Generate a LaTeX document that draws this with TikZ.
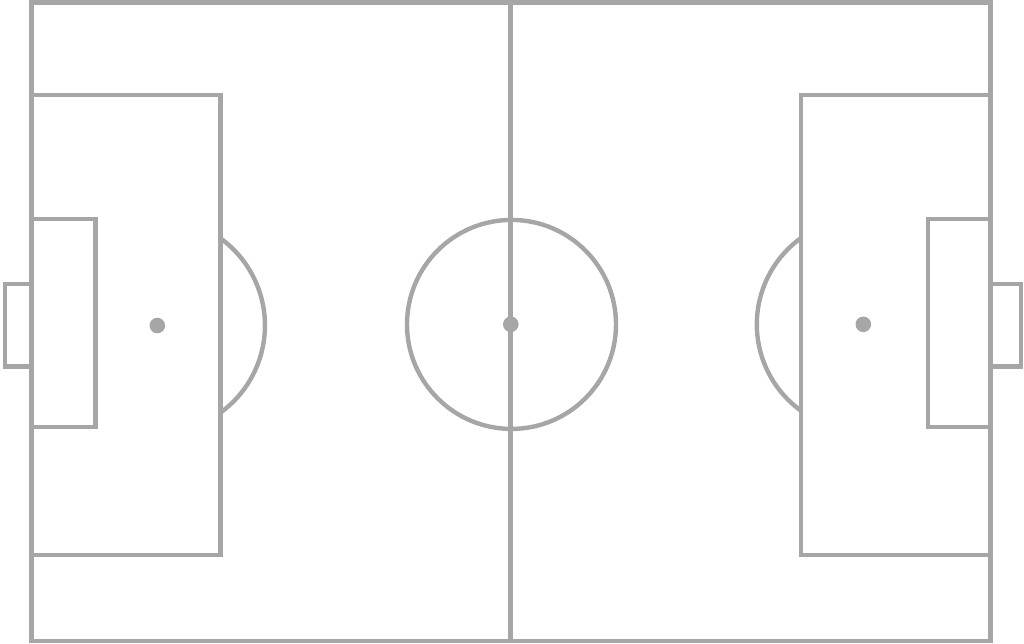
\documentclass[tikz,border=0pt]{standalone}
\definecolor{pitchline}{RGB}{166,166,166}
\begin{document}
\begin{tikzpicture}[x=1pt,y=-1pt,
  pline/.style={draw=pitchline,line width=4.4pt,line cap=butt,line join=miter},
  spot/.style={fill=pitchline}]
\useasboundingbox (0,0) rectangle (1024,643);
% outer boundary and halfway line
\draw[pline] (31.3,2.3) rectangle (990.5,640.7);
\draw[pline] (510.5,2.3) -- (510.5,640.7);
% centre circle and spot
\draw[pline] (511.5,324.4) circle[radius=104.5];
\fill[spot] (510.8,324.3) circle[radius=7.8];
% left side
\draw[pline] (31.3,95) -- (220.3,95) -- (220.3,555) -- (31.3,555);
\draw[pline] (31.3,219) -- (95.5,219) -- (95.5,426.7) -- (31.3,426.7);
\draw[pline] (31.3,283.7) -- (4.7,283.7) -- (4.7,366.3) -- (31.3,366.3);
\fill[spot] (157.3,325.5) circle[radius=7.8];
\draw[pline] (220.3,238.2) arc[start angle=-54.2,end angle=54.2,radius=107.6];
% right side
\draw[pline] (990.5,95) -- (800.7,95) -- (800.7,555) -- (990.5,555);
\draw[pline] (990.5,219) -- (927.8,219) -- (927.8,426.7) -- (990.5,426.7);
\draw[pline] (990.5,283.7) -- (1021,283.7) -- (1021,366.3) -- (990.5,366.3);
\fill[spot] (863.3,324.3) circle[radius=7.8];
\draw[pline] (800.7,238.2) arc[start angle=234,end angle=126,radius=106.5];
\end{tikzpicture}
\end{document}
